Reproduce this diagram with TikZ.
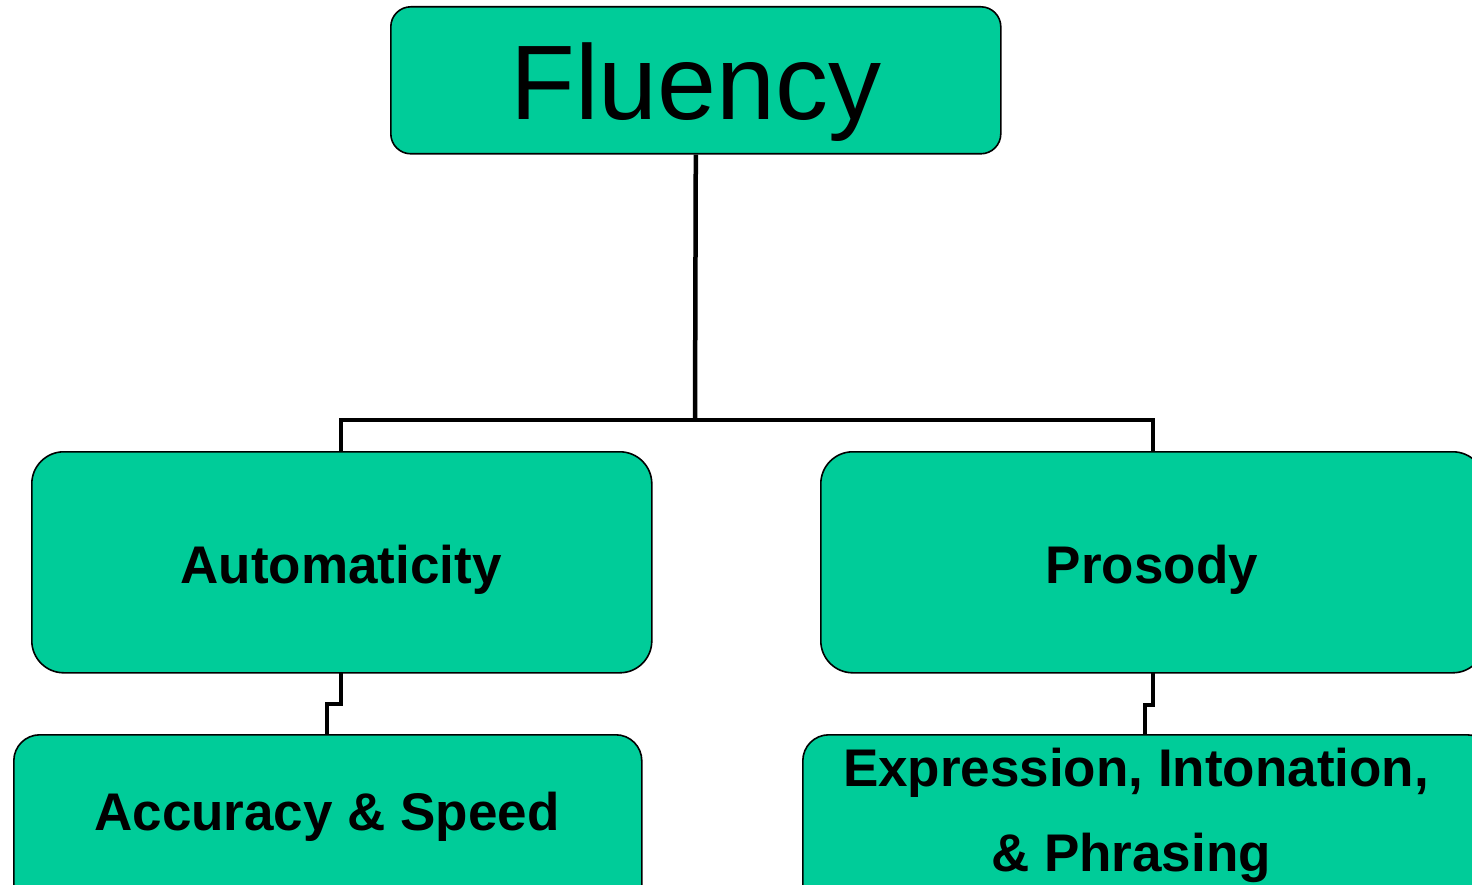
\documentclass[tikz,border=0pt]{standalone}
\usepackage{fontspec}
\setmainfont{Liberation Sans}
\definecolor{boxgreen}{HTML}{00CC99}
\begin{document}
\begin{tikzpicture}[x=1pt,y=-1pt,
  box/.style={draw=black,line width=1.6pt,fill=boxgreen,rounded corners=#1,inner sep=0pt,anchor=north west},
  lbl/.style={font=\fontsize{53}{60}\selectfont\bfseries,anchor=base},
  link/.style={draw=black,line width=4.5pt,line cap=butt}]
\useasboundingbox (0,0) rectangle (1472,885);
\clip (0,0) rectangle (1472,885);
% boxes
\node[box=20pt,minimum width=610pt,minimum height=147pt] (flu) at (390,6) {};
\node[box=32pt,minimum width=620pt,minimum height=221pt] (aut) at (31,451) {};
\node[box=32pt,minimum width=664pt,minimum height=221pt] (pro) at (820,451) {};
\node[box=26pt,minimum width=628pt,minimum height=200pt] (acc) at (13,734) {};
\node[box=26pt,minimum width=690pt,minimum height=200pt] (exp) at (802,734) {};
% texts
\node[font=\fontsize{106}{110}\selectfont,anchor=base] (tflu) at (696,120) {Fluency};
\node[lbl] (taut) at (341,583) {Automaticity};
\node[lbl] (tpro) at (1152,583) {Prosody};
\node[lbl] (tacc) at (327,830) {Accuracy \& Speed};
\node[lbl] (texp1) at (1136,786) {Expression, Intonation,};
\node[lbl] (texp2) at (1131,871) {\& Phrasing};
% connectors
\coordinate (j) at (695,420);
\draw[link] (flu.south) -- (j);
\draw[link] (341,451) |- (j) -| (1153,451);
\draw[link] (341,672) -- (341,704) -- (327,704) -- (327,734);
\draw[link] (1153,672) -- (1153,705) -- (1145,705) -- (1145,734);
\end{tikzpicture}
\end{document}
